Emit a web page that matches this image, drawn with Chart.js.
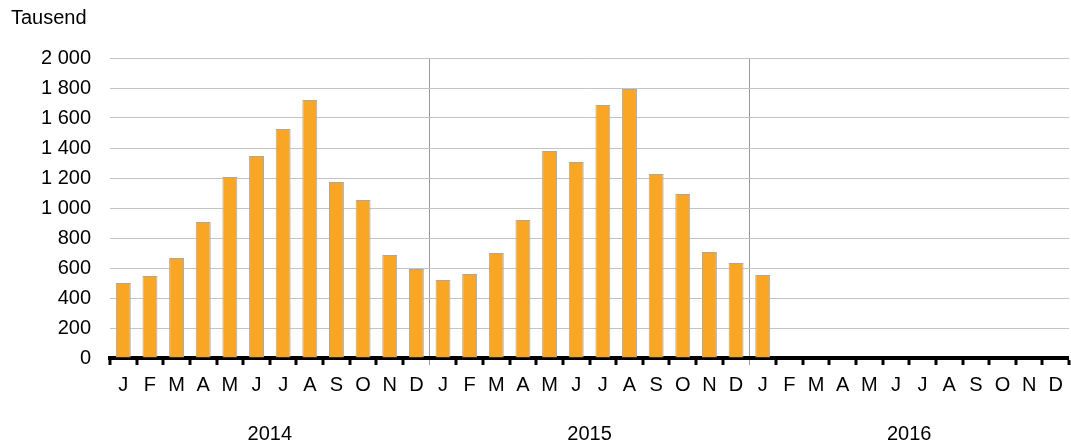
<!DOCTYPE html>
<html>
<head>
<meta charset="utf-8">
<script src="https://cdn.jsdelivr.net/npm/chart.js@4"></script>
<style>
  html, body { margin: 0; padding: 0; background: #fff; }
  #wrap { width: 1071px; height: 446px; }
</style>
</head>
<body>
<div id="wrap"><canvas id="chart" width="1071" height="446"></canvas></div>
<script>
// month letters, three years
const monthLetters = ["J", "F", "M", "A", "M", "J", "J", "A", "S", "O", "N", "D"];
const years = ["2014", "2015", "2016"];

// values in thousand
const values2014 = [500, 547, 667, 907, 1207, 1347, 1527, 1720, 1173, 1053, 687, 593];
const values2015 = [520, 560, 700, 920, 1380, 1307, 1687, 1793, 1227, 1093, 707, 633];
const values2016 = [553, null, null, null, null, null, null, null, null, null, null, null];

const yTicks = [0, 200, 400, 600, 800, 1000, 1200, 1400, 1600, 1800, 2000];

const labels = [].concat(monthLetters, monthLetters, monthLetters);
const values = [].concat(values2014, values2015, values2016);

const FONT = "'Liberation Sans', Arial, sans-serif";
const FONT_SIZE = 20;

// "Tausend" above the y axis
const unitLabel = {
  id: "unitLabel",
  afterDraw(chart) {
    const ctx = chart.ctx;
    ctx.save();
    ctx.font = FONT_SIZE + "px " + FONT;
    ctx.fillStyle = "#000";
    ctx.textAlign = "left";
    ctx.textBaseline = "alphabetic";
    ctx.fillText("Tausend", 11, 24);
    ctx.restore();
  }
};

const isYearBreak = (ctx) => ctx.index === 12 || ctx.index === 24;

new Chart(document.getElementById("chart"), {
  type: "bar",
  data: {
    labels: labels,
    datasets: [{
      data: values,
      backgroundColor: "#FAA625",
      borderColor: "#A8A8A8",
      borderWidth: 1,
      borderSkipped: "bottom",
      categoryPercentage: 1,
      barPercentage: 0.56
    }]
  },
  options: {
    responsive: false,
    animation: false,
    layout: { padding: { top: 58, right: 1, bottom: 0, left: 0 } },
    plugins: {
      legend: { display: false },
      tooltip: { enabled: false }
    },
    font: { family: FONT, size: FONT_SIZE },
    scales: {
      x: {
        position: "bottom",
        weight: 1,
        offset: true,
        grid: {
          offset: true,
          drawOnChartArea: true,
          color: (ctx) => isYearBreak(ctx) ? "#9a9a9a" : "rgba(0,0,0,0)",
          lineWidth: (ctx) => isYearBreak(ctx) ? 1 : 0,
          tickColor: (ctx) => isYearBreak(ctx) ? "#9a9a9a" : "#000",
          tickWidth: (ctx) => isYearBreak(ctx) ? 1 : 3,
          tickLength: 7
        },
        border: { display: true, color: "#000", width: 4 },
        ticks: {
          autoSkip: false,
          maxRotation: 0,
          padding: 8,
          color: "#000",
          font: { family: FONT, size: FONT_SIZE }
        },
        afterFit: (scale) => { scale.height = 40; }
      },
      year: {
        type: "category",
        position: "bottom",
        weight: 2,
        labels: years,
        offset: true,
        grid: { display: false, drawTicks: false },
        border: { display: false },
        ticks: {
          padding: 24,
          color: "#000",
          font: { family: FONT, size: FONT_SIZE }
        },
        afterFit: (scale) => { scale.height = 48; }
      },
      y: {
        min: 0,
        max: 2000,
        afterBuildTicks: (scale) => { scale.ticks = yTicks.map(v => ({ value: v })); },
        grid: { color: "#C4C4C4", lineWidth: 1, drawTicks: false },
        border: { display: false },
        ticks: {
          padding: 19,
          color: "#000",
          font: { family: FONT, size: FONT_SIZE },
          callback: (v) => String(v).replace(/\B(?=(\d{3})+(?!\d))/g, " ")
        },
        afterFit: (scale) => { scale.width = 110; }
      }
    }
  },
  plugins: [unitLabel]
});
</script>
</body>
</html>
